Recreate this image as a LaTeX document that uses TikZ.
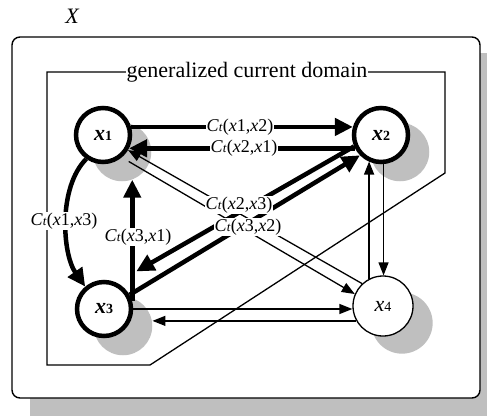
\documentclass[tikz,border=0pt]{standalone}
\usepackage{fontspec}
\setmainfont{Liberation Serif}
\usetikzlibrary{calc, positioning, arrows.meta, backgrounds}

\newcommand{\ct}[2]{\textit{C}{\fontsize{13}{13}\selectfont\textit{t}}(\textit{x}#1,\textit{x}#2)}
\newcommand{\xn}[1]{\textit{x}{\fontsize{14}{14}\selectfont #1}}

\begin{document}
\begin{tikzpicture}[x=1pt, y=-1pt,
    state/.style={draw, circle, fill=white, inner sep=0pt, line width=4.5pt, minimum size=54pt, font=\fontsize{22}{22}\selectfont\bfseries},
    lightstate/.style={draw, circle, fill=white, inner sep=0pt, line width=1.3pt, minimum size=60pt, font=\fontsize{22}{22}\selectfont},
    shade/.style={circle, fill=black!25, inner sep=0pt, minimum size=#1},
    heavy/.style={line width=4.5pt, -{Triangle[length=18pt, width=17pt]}},
    light/.style={line width=1.3pt, -{Triangle[length=13pt, width=10pt]}},
    lbl/.style={fill=white, inner sep=1pt, font=\fontsize{18}{18}\selectfont}]
  \useasboundingbox (0,0) rectangle (487,416);

  % States
  \node[state] (x1) at (103,135) {\xn{1}};
  \node[state] (x2) at (381,135) {\xn{2}};
  \node[state] (x3) at (104,309) {\xn{3}};
  \node[lightstate] (x4) at (383,306) {\xn{4}};

  % Space, domain and shadows
  \begin{scope}[on background layer]
    \fill[black!25] (30,53) rectangle (487,416);
    \draw[line width=1.4pt, fill=white, rounded corners=8pt] (12,37) rectangle (480,398);
    \node[font=\fontsize{22}{22}\selectfont\itshape] (space) at (72,16) {X};
    \draw[line width=1.3pt] (47,72) -- (445,72) -- (445,173) -- (150,365) -- (47,365) -- cycle;
    \node[fill=white, inner sep=1pt, font=\fontsize{22}{22}\selectfont] (domain) at (247,72) {generalized current domain};
    \node[shade=58.5pt] (x1s) at ($(x1)+(19,17)$) {};
    \node[shade=58.5pt] (x2s) at ($(x2)+(19,17)$) {};
    \node[shade=58.5pt] (x3s) at ($(x3)+(19,17)$) {};
    \node[shade=61.3pt] (x4s) at ($(x4)+(19,17)$) {};
  \end{scope}

  % Thick transitions
  \coordinate (e23) at ($(x3.15)+(4,-30)$);
  \draw[heavy] (x1.16) -- (x2.164);
  \draw[heavy] (x2.207) -- (x1.-27);
  \draw[heavy] (x1.-125) to[out=225, in=125, looseness=0.8] (x3.130);
  \draw[heavy] (x3.15) -- (x3.15 |- x1s.-70);
  \draw[heavy] (x2.203) -- (e23);
  \draw[heavy] (x3.29) -- (x2.224);

  % Thin transitions
  \draw[light] (x4.133) -- (x1.-31);
  \draw[light, shorten <=8pt] (x1.-50) -- (x4.157);
  \draw[light] (x2.-85) -- (x2.-85 |- x4.north);
  \draw[light] (x4.117) -- (x4.117 |- x2.-115);
  \draw[light] (x3.east) -- (x3.east -| x4.west);
  \draw[light] (x4.209) -- (x4.209 -| x3s.east);

  % Labels
  \node[lbl] (c12) at (240,127) {\ct{1}{2}};
  \node[lbl] (c21) at (244,148) {\ct{2}{1}};
  \node[lbl] (c13) at (64,221) {\ct{1}{3}};
  \node[lbl] (c31) at (138,237) {\ct{3}{1}};
  \node[lbl] (c23) at (239,205) {\ct{2}{3}};
  \node[lbl] (c32) at (248,227) {\ct{3}{2}};
\end{tikzpicture}
\end{document}
